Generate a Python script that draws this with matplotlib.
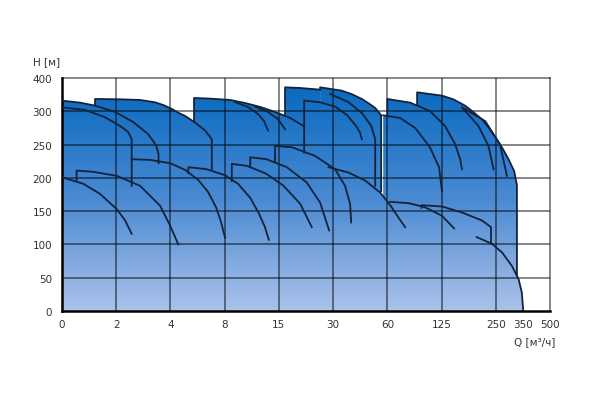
import numpy as np
import matplotlib
matplotlib.use("Agg")
import matplotlib.pyplot as plt
from matplotlib.patches import Polygon
from matplotlib.colors import LinearSegmentedColormap

# axis ticks: every tick is one grid step, so both scales are piecewise
q_ticks = [0, 2, 4, 8, 15, 30, 60, 125, 250, 350, 500]
q_pos = [0, 1, 2, 3, 4, 5, 6, 7, 8, 8.5, 9]
h_ticks = [0, 50, 100, 150, 200, 250, 300, 400]
h_pos = [0, 1, 2, 3, 4, 5, 6, 7]
q_grid = [2, 4, 8, 15, 30, 60, 125, 250]
h_grid = [50, 100, 150, 200, 250, 300]

# pump curves, Q [m3/h] and H [m]
c1_q = [0, 0.66, 1.22, 1.96, 2.62, 3.17, 3.47, 3.56, 3.56]
c1_h = [332, 326, 317, 299, 284, 266, 249, 236, 222]
c1b_q = [0, 0.85, 1.59, 2.14, 2.44, 2.57, 2.57]
c1b_h = [312, 304, 291, 278, 269, 258, 188]
c2_q = [1.22, 1.22, 2.14, 2.51, 2.88, 3.43, 3.73, 4.1, 4.56, 5.08, 5.82, 6.56, 7.05, 7.05]
c2_h = [317, 337, 336, 335, 334, 327, 319, 307, 298, 293, 283, 271, 258, 213]
c3_q = [5.74, 5.74, 6.92, 8.7, 10.6, 12.6, 14.5, 18.1, 21.8]
c3_h = [284, 340, 338, 334, 325, 313, 299, 290, 278]
c3a_q = [9.3, 11.0, 12.3, 13.1, 13.6]
c3a_h = [328, 313, 296, 285, 271]
c3b_q = [11.9, 13.6, 14.9, 16.7]
c3b_h = [314, 299, 288, 273]
c4_q = [16.7, 16.7, 20.9, 26.4]
c4_h = [293, 372, 370, 365]
c4b_q = [22.0, 22.0, 26.4, 31.1, 37.8, 42.7, 44.9, 45.9]
c4b_h = [238, 332, 327, 314, 294, 278, 268, 258]
c5_q = [26.4, 26.4, 34.8, 40.5, 45.9, 49.9, 53.3, 56.6, 56.6]
c5_h = [365, 372, 362, 351, 337, 323, 310, 294, 180]
c5b_q = [29.2, 38.3, 46.1, 51.1, 53.3, 53.3]
c5b_h = [352, 328, 297, 278, 258, 188]
c6_q = [60, 60, 87.3, 111, 133, 156, 168, 172]
c6_h = [294, 337, 326, 301, 278, 251, 228, 213]
c6a_q = [57.7, 75.4, 93.3, 111, 122, 126]
c6a_h = [294, 290, 275, 246, 216, 180]
c7_q = [95.7, 95.7, 126, 152, 179, 198, 218, 233, 249, 274, 297, 318, 328, 328]
c7_h = [319, 357, 347, 336, 317, 299, 288, 276, 261, 245, 228, 210, 189, 53]
c7a_q = [172, 210, 233, 245]
c7a_h = [312, 278, 248, 213]
c7b_q = [179, 226, 266, 291]
c7b_h = [307, 285, 250, 203]

l1_q = [0, 0.79, 1.4, 2.02, 2.33, 2.57]
l1_h = [201, 191, 176, 153, 136, 116]
l2_q = [0.54, 0.54, 1.16, 2.02, 2.88, 3.62, 3.99, 4.58]
l2_h = [195, 211, 209, 203, 188, 158, 128, 100]
l3_q = [2.57, 3.25, 3.99, 5.08, 6.04, 6.77, 7.36, 7.73, 8.05]
l3_h = [228, 227, 222, 212, 197, 179, 156, 134, 110]
l4_q = [5.32, 5.32, 6.68, 8.05, 9.73, 11.3, 12.4, 13.2, 13.7]
l4_h = [207, 216, 213, 204, 191, 170, 147, 126, 107]
l5_q = [8.92, 8.92, 10.9, 13.4, 16.3, 20.9, 24.1]
l5_h = [195, 221, 218, 206, 188, 161, 126]
l6_q = [11.3, 11.3, 13.4, 17.2, 22.7, 26.4, 28.9]
l6_h = [216, 231, 228, 216, 193, 163, 121]
l7_q = [14.5, 14.5, 18.6, 25.0, 31.1, 36.6, 39.4, 40.0]
l7_h = [224, 248, 246, 233, 213, 188, 161, 133]
l8_q = [28.7, 38.5, 47.7, 56.0, 63.4, 73.0, 81.3]
l8_h = [216, 208, 196, 178, 159, 141, 126]
l9_q = [63.4, 85.3, 105, 126, 154]
l9_h = [164, 162, 156, 143, 124]
l10_q = [101, 101, 126, 172, 218, 239, 239]
l10_h = [155, 159, 157, 148, 136, 126, 101]
l11_q = [206, 241, 273, 309, 334, 346, 352]
l11_h = [111, 101, 88, 68, 48, 28, 0]

curves = [
    (c1_q, c1_h), (c1b_q, c1b_h), (c2_q, c2_h), (c3_q, c3_h),
    (c3a_q, c3a_h), (c3b_q, c3b_h), (c4_q, c4_h), (c4b_q, c4b_h),
    (c5_q, c5_h), (c5b_q, c5b_h), (c6_q, c6_h), (c6a_q, c6a_h),
    (c7_q, c7_h), (c7a_q, c7a_h), (c7b_q, c7b_h),
    (l1_q, l1_h), (l2_q, l2_h), (l3_q, l3_h), (l4_q, l4_h),
    (l5_q, l5_h), (l6_q, l6_h), (l7_q, l7_h), (l8_q, l8_h),
    (l9_q, l9_h), (l10_q, l10_h), (l11_q, l11_h),
]


def q_fwd(q):
    return np.interp(q, q_ticks, q_pos)


def q_inv(p):
    return np.interp(p, q_pos, q_ticks)


def h_fwd(h):
    return np.interp(h, h_ticks, h_pos)


def h_inv(p):
    return np.interp(p, h_pos, h_ticks)


fig = plt.figure(figsize=(5.92, 4.02), dpi=100)
ax = fig.add_axes([62 / 592, 90 / 402, 488 / 592, 233 / 402])
ax.set_xscale("function", functions=(q_fwd, q_inv))
ax.set_yscale("function", functions=(h_fwd, h_inv))

# blue gradient under every curve (their union gives the envelope)
cmap = LinearSegmentedColormap.from_list(
    "pump", [(0.0, "#abc2e9"), (0.48, "#4a8ad3"), (1.0, "#0567bd")])
grad = np.linspace(0, 1, 256).reshape(-1, 1)
for q, h in curves:
    verts = [(q[0], 0)] + list(zip(q, h)) + [(q[-1], 0)]
    poly = Polygon(verts, closed=True, transform=ax.transData)
    im = ax.imshow(grad, cmap=cmap, extent=(0, 1, 0, 1), origin="lower",
                   transform=ax.transAxes, aspect="auto", zorder=1,
                   interpolation="bilinear")
    im.set_clip_path(poly)

for v in q_grid:
    ax.axvline(v, color="black", alpha=0.6, lw=1.1, zorder=2)
for v in h_grid:
    ax.axhline(v, color="black", alpha=0.6, lw=1.1, zorder=2)

for q, h in curves:
    ax.plot(q, h, color="#14223a", lw=1.3, zorder=4, solid_joinstyle="round")

ax.set_xlim(0, 500)
ax.set_ylim(0, 400)
ax.set_xticks(q_ticks)
ax.set_xticklabels([str(v) for v in q_ticks])
ax.set_yticks(h_ticks)
ax.set_yticklabels([str(v) for v in h_ticks])
ax.minorticks_off()
ax.tick_params(axis="x", length=0, pad=6, labelsize=7.5, labelcolor="#333333")
ax.tick_params(axis="y", length=0, pad=7, labelsize=7.5, labelcolor="#333333")

for s in ["top", "right"]:
    ax.spines[s].set_color((0, 0, 0, 0.6))
    ax.spines[s].set_linewidth(1.1)
for s in ["left", "bottom"]:
    ax.spines[s].set_color("black")
    ax.spines[s].set_linewidth(1.8)

fig.text(60 / 592, 1 - 62 / 402, "H [м]", ha="right", va="center",
         fontsize=7.5, color="#333333")
fig.text(555 / 592, 1 - 342 / 402, "Q [м³/ч]", ha="right", va="center",
         fontsize=7.5, color="#333333")

fig.savefig("out.png", dpi=100)
